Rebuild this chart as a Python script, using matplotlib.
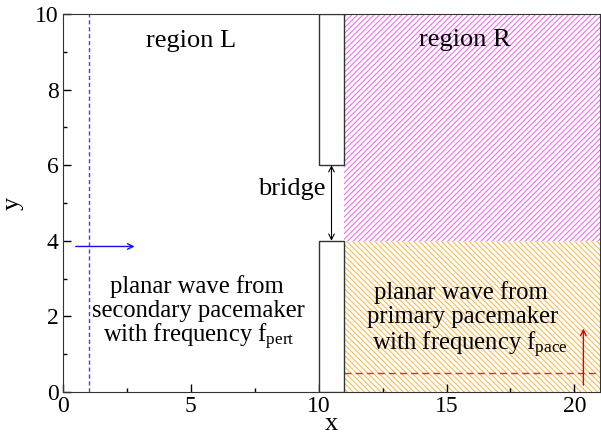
import matplotlib.pyplot as plt
from matplotlib.patches import Rectangle

plt.rcParams['font.family'] = ['Liberation Serif', 'DejaVu Serif']
plt.rcParams['mathtext.fontset'] = 'custom'
plt.rcParams['mathtext.rm'] = 'Liberation Serif'
plt.rcParams['mathtext.it'] = 'Liberation Serif:italic'
plt.rcParams['hatch.linewidth'] = 0.8

# domain and geometry
x_lim = [0, 21]
y_lim = [0, 10]
wall_x = [10, 11]
wall_low = [0, 4]
wall_high = [6, 10]
region_r_x = [11, 21]
region_r_top = [4, 10]
region_r_bottom = [0, 4]

# stimuli
pert_x = 1.0
pert_arrow_x = [0.5, 2.8]
pert_arrow_y = 3.85
pace_y = 0.5
pace_arrow_x = 20.35
pace_arrow_y = [0.18, 1.68]

# labels (text, x, baseline y)
left_lines = ['planar wave from', 'secondary pacemaker',
              'with frequency f$_{\\mathrm{pert}}$']
left_x = [5.22, 5.31, 5.33]
left_y = [2.62, 1.98, 1.30]
right_lines = ['planar wave from', 'primary pacemaker',
               'with frequency f$_{\\mathrm{pace}}$']
right_x = [15.54, 15.61, 15.92]
right_y = [2.46, 1.83, 1.10]

fig = plt.figure(figsize=(6.01, 4.37), dpi=100)
ax = fig.add_axes([63 / 601, 1 - 392 / 437, 537 / 601, 378 / 437])
ax.set_xlim(x_lim)
ax.set_ylim(y_lim)

ax.add_patch(Rectangle((region_r_x[0], region_r_top[0]), region_r_x[1] - region_r_x[0],
                       region_r_top[1] - region_r_top[0], facecolor='none',
                       edgecolor='#f070f0', hatch='//////', lw=0))
ax.add_patch(Rectangle((region_r_x[0], region_r_bottom[0]), region_r_x[1] - region_r_x[0],
                       region_r_bottom[1] - region_r_bottom[0], facecolor='none',
                       edgecolor='#fbbc55', hatch='\\\\\\\\\\\\', lw=0))

for lo, hi in [wall_low, wall_high]:
    ax.add_patch(Rectangle((wall_x[0], lo), wall_x[1] - wall_x[0], hi - lo,
                           facecolor='white', edgecolor='#333333', lw=1.0, zorder=3))

ax.axvline(pert_x, color='#4040ff', ls=(0, (3, 2)), lw=1.0)
ax.annotate('', xy=(pert_arrow_x[1], pert_arrow_y), xytext=(pert_arrow_x[0], pert_arrow_y),
            arrowprops=dict(arrowstyle='->', color='#1010ee', lw=1.0, shrinkA=0, shrinkB=0))
ax.plot(region_r_x, [pace_y, pace_y], color='#ff2020', ls=(0, (5, 3)), lw=1.0)
ax.annotate('', xy=(pace_arrow_x, pace_arrow_y[1]), xytext=(pace_arrow_x, pace_arrow_y[0]),
            arrowprops=dict(arrowstyle='->', color='#e00000', lw=1.0, shrinkA=0, shrinkB=0))
ax.annotate('', xy=(10.5, wall_low[1]), xytext=(10.5, wall_high[0]),
            arrowprops=dict(arrowstyle='<->', color='black', lw=0.8, shrinkA=0, shrinkB=0),
            zorder=4)

fs = 19
ax.text(5.0, 9.14, 'region L', fontsize=fs, ha='center', va='baseline')
ax.text(15.72, 9.16, 'region R', fontsize=fs, ha='center', va='baseline')
ax.text(8.95, 5.21, 'bridge', fontsize=fs, ha='center', va='baseline')
for s, x, y in zip(left_lines, left_x, left_y):
    ax.text(x, y, s, fontsize=17.7, ha='center', va='baseline')
for s, x, y in zip(right_lines, right_x, right_y):
    ax.text(x, y, s, fontsize=17.7, ha='center', va='baseline')

ax.set_xticks([0, 5, 10, 15, 20])
ax.set_xticks([2.5, 7.5, 12.5, 17.5], minor=True)
ax.set_yticks([0, 2, 4, 6, 8, 10])
ax.set_yticks([1, 3, 5, 7, 9], minor=True)
ax.tick_params(direction='in', labelsize=17, length=6, width=1, top=False, right=False, pad=3)
ax.tick_params(which='minor', direction='in', length=3, width=1, top=False, right=False)
ax.set_xlabel('x', fontsize=fs, labelpad=-3)
ax.set_ylabel('y', fontsize=fs, labelpad=8)
for s in ax.spines.values():
    s.set_color('#333333')

fig.savefig('out.png', dpi=100)
